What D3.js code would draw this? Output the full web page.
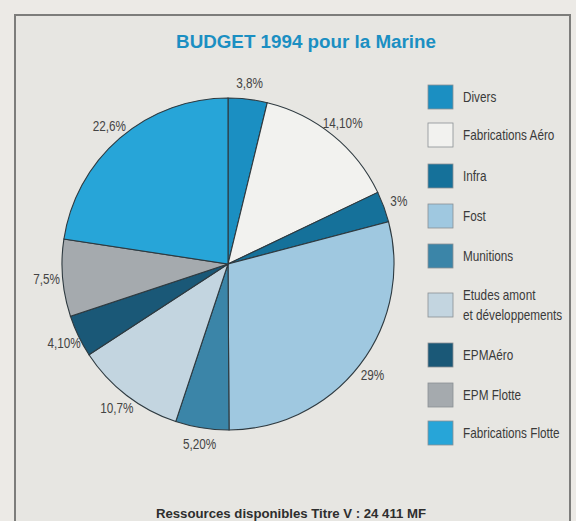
<!DOCTYPE html>
<html><head><meta charset="utf-8">
<script src="https://cdn.jsdelivr.net/npm/d3@7"></script>
<style>
html,body{margin:0;padding:0;background:#eceae6;}
svg{display:block;}
</style></head>
<body>
<svg id="chart" width="576" height="521"></svg>
<script>
const categories = ["Divers","Fabrications Aéro","Infra","Fost","Munitions","Etudes amont\net développements","EPMAéro","EPM Flotte","Fabrications Flotte"];
const values = [3.8, 14.1, 3, 29, 5.2, 10.7, 4.1, 7.5, 22.6];
const valueLabels = ["3,8%","14,10%","3%","29%","5,20%","10,7%","4,10%","7,5%","22,6%"];
const colors = ["#1b8fc2","#f2f2ef","#15719a","#9fc8e0","#3b85a8","#c3d5e0","#1a5877","#a5aaae","#27a5d8"];
const title = "BUDGET 1994 pour la Marine";
const footer = "Ressources disponibles Titre V : 24 411 MF";

const FONT = "Liberation Sans, Arial, sans-serif";
const SX = 0.84; // condensed look

const svg = d3.select("#chart");
svg.append("rect").attr("x",15).attr("y",15).attr("width",555).attr("height",520)
  .attr("fill","#e7e6e2").attr("stroke","#7d7d7b").attr("stroke-width",2);

svg.append("text").attr("x",306).attr("y",48).attr("text-anchor","middle")
  .attr("font-family",FONT).attr("font-weight","bold")
  .attr("font-size",18.8).attr("fill","#1b8fc2").text(title);

const cx = 228, cy = 264, r = 166;
const g = svg.append("g").attr("transform",`translate(${cx},${cy})`);
const pie = d3.pie().sort(null).value(d=>d)(values);
const arc = d3.arc().innerRadius(0).outerRadius(r);
const labelArc = d3.arc().innerRadius(182).outerRadius(182);

g.selectAll("path").data(pie).join("path")
  .attr("d",arc).attr("fill",(d,i)=>colors[i])
  .attr("stroke","#2e3a40").attr("stroke-width",1.1);

g.selectAll("g.lbl").data(pie).join("g").attr("class","lbl")
  .attr("transform",d=>{const c=labelArc.centroid(d);return `translate(${c[0]},${c[1]}) scale(${SX},1)`;})
  .append("text")
  .attr("dy","0.35em").attr("text-anchor","middle")
  .attr("font-family",FONT).attr("font-size",14).attr("fill","#444")
  .text((d,i)=>valueLabels[i]);

const legendY = [97,135,176,216,256,305,355,395,433];
const lg = svg.append("g");
categories.forEach((c,i)=>{
  const y = legendY[i];
  lg.append("rect").attr("x",428).attr("y",y-12).attr("width",25).attr("height",24)
    .attr("fill",colors[i]).attr("stroke","#8a9094").attr("stroke-width",0.8);
  const lines = c.split("\n");
  const tg = lg.append("g").attr("transform",`translate(463,${y - (lines.length-1)*10}) scale(${SX},1)`);
  const t = tg.append("text").attr("x",0).attr("y",0)
    .attr("font-family",FONT).attr("font-size",14).attr("fill","#3a3a3a");
  lines.forEach((l,j)=>{
    t.append("tspan").attr("x",0).attr("dy", j===0 ? "0.35em" : "20").text(l);
  });
});

svg.append("text").attr("x",291).attr("y",518).attr("text-anchor","middle")
  .attr("font-family",FONT).attr("font-weight","bold")
  .attr("font-size",13.2).attr("fill","#2e2e2e").text(footer);
</script>
</body></html>
